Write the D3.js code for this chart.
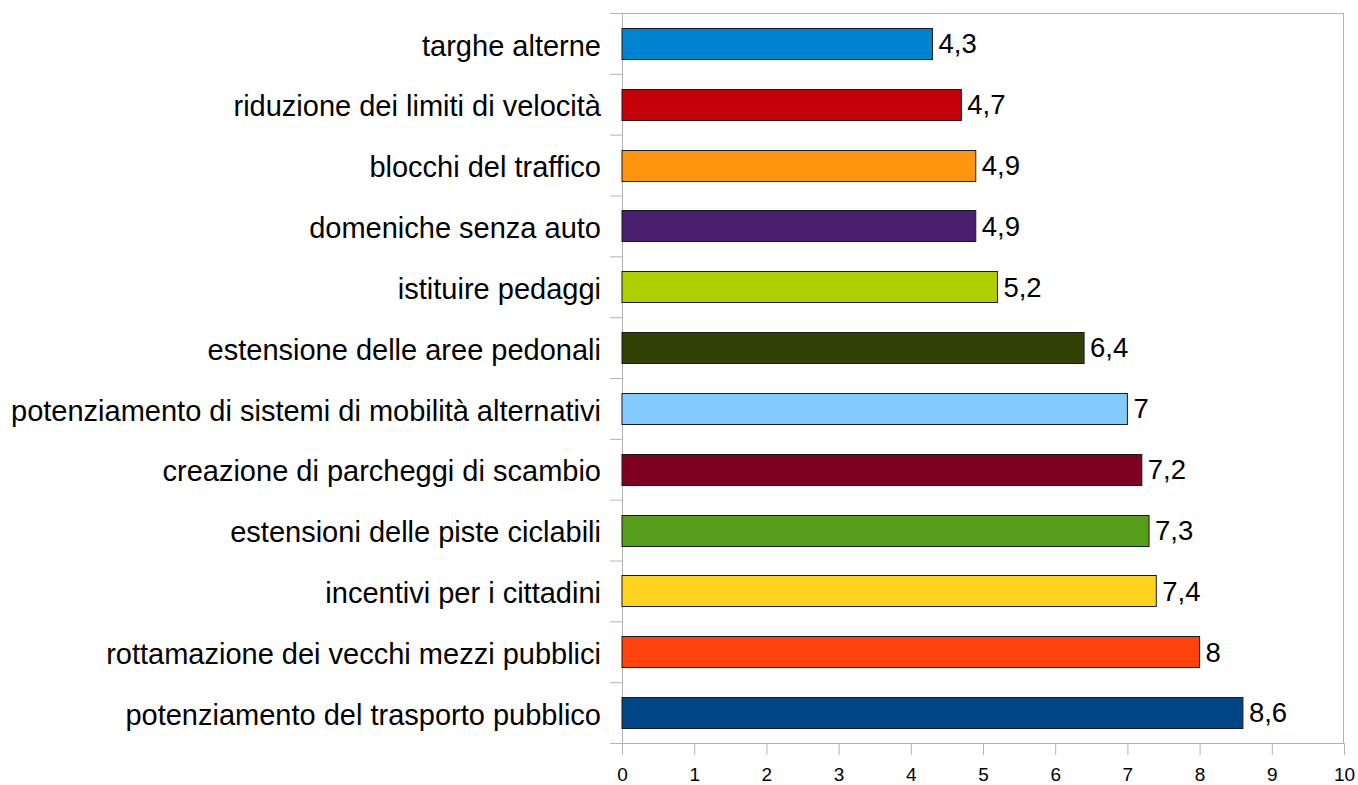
<!DOCTYPE html>
<html>
<head>
<meta charset="utf-8">
<script src="https://cdn.jsdelivr.net/npm/d3@7"></script>
<style>
  body { margin: 0; background: #fff; }
  text { font-family: "Liberation Sans", Arial, sans-serif; fill: #000; }
</style>
</head>
<body>
<div id="chart"></div>
<script>
// Data
var categories = [
    "targhe alterne",
    "riduzione dei limiti di velocità",
    "blocchi del traffico",
    "domeniche senza auto",
    "istituire pedaggi",
    "estensione delle aree pedonali",
    "potenziamento di sistemi di mobilità alternativi",
    "creazione di parcheggi di scambio",
    "estensioni delle piste ciclabili",
    "incentivi per i cittadini",
    "rottamazione dei vecchi mezzi pubblici",
    "potenziamento del trasporto pubblico"
];
var values = [4.3, 4.7, 4.9, 4.9, 5.2, 6.4, 7, 7.2, 7.3, 7.4, 8, 8.6];
var barColors = ["#0084d1", "#c5000b", "#ff950e", "#4b1f6f", "#aecf00", "#314004",
                 "#83caff", "#7e0021", "#579d1c", "#ffd320", "#ff420e", "#004586"];
var xTicks = [0, 1, 2, 3, 4, 5, 6, 7, 8, 9, 10];

// Set up dimensions
var W = 1358, H = 785;
var margin = {top: 13, right: 14, bottom: 42, left: 622},
    width = W - margin.left - margin.right,
    height = H - margin.top - margin.bottom;

var svg = d3.select("#chart")
    .append("svg")
    .attr("width", W)
    .attr("height", H)
    .append("g")
    .attr("transform", "translate(" + margin.left + "," + margin.top + ")");

var x = d3.scaleLinear()
    .domain([0, 10])
    .range([0, width]);

var y = d3.scaleBand()
    .domain(categories)
    .range([0, height])
    .paddingInner(0.49)
    .paddingOuter(0.245);

// band boundaries for the left ticks
var yIdx = d3.scaleLinear()
    .domain([0, categories.length])
    .range([0, height]);

var gridColor = "#b3b3b3";

// frame (top and right)
svg.append("line")
    .attr("x1", 0).attr("x2", width)
    .attr("y1", 0.5).attr("y2", 0.5)
    .attr("stroke", gridColor);
svg.append("line")
    .attr("x1", width - 0.5).attr("x2", width - 0.5)
    .attr("y1", 0).attr("y2", height)
    .attr("stroke", gridColor);

// Left axis (ticks at band boundaries)
var yAxis = svg.append("g")
    .call(d3.axisLeft(yIdx)
        .tickValues(d3.range(categories.length + 1))
        .tickSize(12)
        .tickFormat(""));
yAxis.selectAll("line, path").attr("stroke", gridColor);

// Bottom axis
var xAxis = svg.append("g")
    .attr("transform", "translate(0," + height + ")")
    .call(d3.axisBottom(x)
        .tickValues(xTicks)
        .tickSize(12)
        .tickSizeOuter(0)
        .tickPadding(13)
        .tickFormat(d3.format("d")));
xAxis.selectAll("line, path").attr("stroke", gridColor);
xAxis.selectAll("text")
    .style("font-size", "19px")
    .style("font-family", "'Liberation Sans', Arial, sans-serif")
    .attr("fill", "#000");

// Category labels
svg.append("g")
    .selectAll("text")
    .data(categories)
    .enter()
    .append("text")
    .attr("x", -21)
    .attr("y", d => y(d) + y.bandwidth() / 2)
    .attr("dy", "0.42em")
    .attr("text-anchor", "end")
    .style("font-size", "29px")
    .text(d => d);

// Draw bars
svg.append("g")
    .selectAll("rect")
    .data(values)
    .enter()
    .append("rect")
    .attr("x", x(0))
    .attr("y", (d, i) => Math.round(y(categories[i])) + 0.5)
    .attr("width", d => x(d) - x(0))
    .attr("height", Math.round(y.bandwidth()))
    .attr("fill", (d, i) => barColors[i])
    .attr("stroke", "#1a1a1a")
    .attr("stroke-width", 1);

// Value labels
var fmt = d => String(d).replace(".", ",");
svg.append("g")
    .selectAll("text")
    .data(values)
    .enter()
    .append("text")
    .attr("x", d => x(d) + 6)
    .attr("y", (d, i) => y(categories[i]) + y.bandwidth() / 2)
    .attr("dy", "0.36em")
    .style("font-size", "27.5px")
    .text(fmt);
</script>
</body>
</html>
